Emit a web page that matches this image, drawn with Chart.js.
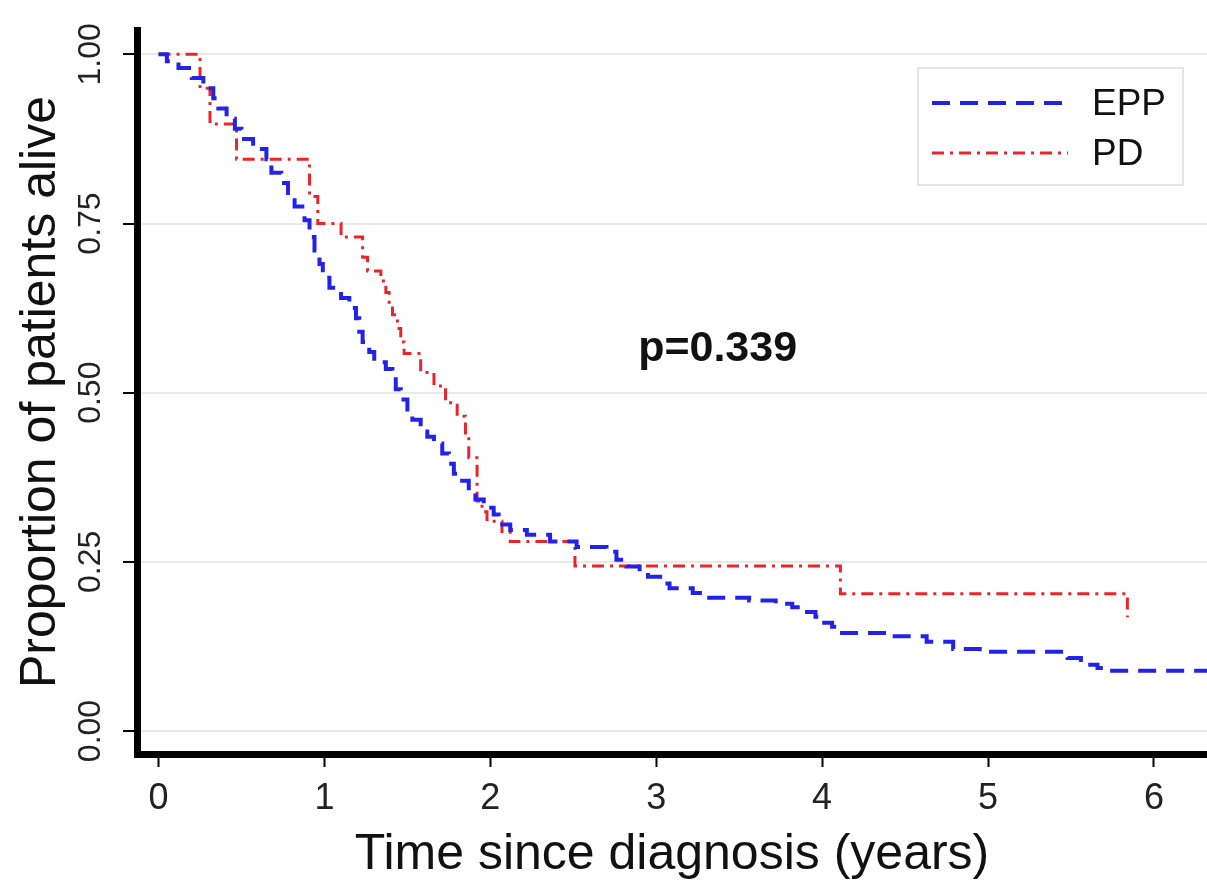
<!DOCTYPE html>
<html>
<head>
<meta charset="utf-8">
<script src="https://cdn.jsdelivr.net/npm/chart.js@4.4.1/dist/chart.umd.min.js"></script>
<style>
  body { margin: 0; background: #fff; }
  #wrap { width: 1207px; height: 880px; }
</style>
</head>
<body>
<div id="wrap"><canvas id="km"></canvas></div>
<script>
// Kaplan-Meier steps: time of each drop and survival after it
const eppTime = [0, 0.05, 0.12, 0.2, 0.27, 0.33, 0.36, 0.41, 0.46, 0.5, 0.57, 0.65, 0.68, 0.74, 0.78,
  0.82, 0.88, 0.91, 0.94, 0.97, 0.99, 1.03, 1.1, 1.15, 1.19, 1.21, 1.23, 1.27, 1.3, 1.37, 1.41,
  1.43, 1.46, 1.5, 1.53, 1.58, 1.62, 1.66, 1.71, 1.75, 1.78, 1.83, 1.87, 1.91, 1.96, 2.02, 2.05,
  2.12, 2.22, 2.36, 2.52, 2.7, 2.76, 2.82, 2.9, 2.95, 3.05, 3.08, 3.22, 3.3, 3.56, 3.72, 3.82,
  3.88, 3.96, 4.0, 4.06, 4.12, 4.42, 4.63, 4.79, 4.95, 5.48, 5.56, 5.66, 5.71, 6.32]
const eppSurv = [1.0, 0.99, 0.98, 0.965, 0.95, 0.935, 0.92, 0.905, 0.89, 0.875, 0.86, 0.845, 0.825, 0.81, 0.79,
  0.775, 0.755, 0.73, 0.71, 0.69, 0.67, 0.655, 0.64, 0.625, 0.61, 0.59, 0.575, 0.56, 0.545, 0.535, 0.52,
  0.505, 0.49, 0.475, 0.46, 0.45, 0.435, 0.425, 0.41, 0.395, 0.38, 0.37, 0.355, 0.342, 0.33, 0.32, 0.305,
  0.297, 0.29, 0.28, 0.272, 0.265, 0.253, 0.243, 0.235, 0.228, 0.218, 0.211, 0.204, 0.197, 0.193, 0.188, 0.183,
  0.176, 0.169, 0.16, 0.154, 0.145, 0.14, 0.132, 0.121, 0.117, 0.108, 0.098, 0.093, 0.089, 0.089]

const pdTime = [0, 0.25, 0.31, 0.47, 0.91, 0.96, 1.1, 1.23, 1.26, 1.34, 1.37, 1.39, 1.41, 1.44, 1.46,
  1.48, 1.58, 1.66, 1.73, 1.8, 1.85, 1.87, 1.92, 1.95, 1.98, 2.07, 2.12, 2.51, 4.11, 5.84]
const pdSurv = [1.0, 0.95, 0.897, 0.845, 0.79, 0.75, 0.73, 0.70, 0.68, 0.665, 0.648, 0.63, 0.615, 0.595, 0.575,
  0.558, 0.53, 0.51, 0.485, 0.465, 0.435, 0.404, 0.34, 0.324, 0.31, 0.295, 0.28, 0.244, 0.203, 0.168]

const seriesNames = ['EPP', 'PD']
const xTicks = [0, 1, 2, 3, 4, 5, 6]
const yTicks = [0, 0.25, 0.5, 0.75, 1]
const pValueText = 'p=0.339'
const pValuePos = [3.37, 0.565]

const FONT = "'Liberation Sans', Arial, sans-serif"
Chart.defaults.font.family = FONT
Chart.defaults.color = '#111'

const blue = '#2222e8'
const red = '#e8262a'
const blueDash = [18, 10]
const redDash = [12, 6, 3, 6]

function toPoints(t, s) {
  return t.map((v, i) => ({ x: v, y: s[i] }))
}

// p-value text and boxed legend inside the plot
const overlay = {
  id: 'overlay',
  afterDraw(chart) {
    const { ctx, chartArea, scales } = chart
    ctx.save()
    ctx.font = 'bold 43px ' + FONT
    ctx.fillStyle = '#111'
    ctx.textAlign = 'center'
    ctx.textBaseline = 'middle'
    ctx.fillText(pValueText, scales.x.getPixelForValue(pValuePos[0]), scales.y.getPixelForValue(pValuePos[1]))

    const bx = chartArea.right - 289, by = chartArea.top + 38
    ctx.fillStyle = '#fff'
    ctx.fillRect(bx, by, 265, 117)
    ctx.strokeStyle = '#dcdcdc'
    ctx.lineWidth = 1.5
    ctx.strokeRect(bx, by, 265, 117)

    const rows = [[blue, blueDash, 4], [red, redDash, 3]]
    ctx.font = '37px ' + FONT
    ctx.textAlign = 'left'
    rows.forEach((r, i) => {
      const y = by + 35 + i * 50
      ctx.strokeStyle = r[0]
      ctx.lineWidth = r[2]
      ctx.setLineDash(r[1])
      ctx.beginPath()
      ctx.moveTo(bx + 14, y)
      ctx.lineTo(bx + 150, y)
      ctx.stroke()
      ctx.setLineDash([])
      ctx.fillStyle = '#111'
      ctx.fillText(seriesNames[i], bx + 174, y + 2)
    })
    ctx.restore()
  }
}

new Chart(document.getElementById('km'), {
  type: 'line',
  data: {
    datasets: [{
      label: seriesNames[0],
      data: toPoints(eppTime, eppSurv),
      borderColor: blue,
      borderWidth: 4,
      borderDash: blueDash,
      stepped: true,
      pointRadius: 0,
      fill: false
    }, {
      label: seriesNames[1],
      data: toPoints(pdTime, pdSurv),
      borderColor: red,
      borderWidth: 3,
      borderDash: redDash,
      stepped: true,
      pointRadius: 0,
      fill: false
    }]
  },
  options: {
    responsive: true,
    maintainAspectRatio: false,
    animation: false,
    layout: { padding: { top: 30, right: 0, left: 0, bottom: 0 } },
    plugins: { legend: { display: false }, tooltip: { enabled: false } },
    scales: {
      x: {
        type: 'linear',
        min: -0.13,
        max: 6.32,
        afterBuildTicks: s => { s.ticks = xTicks.map(v => ({ value: v })) },
        afterFit: s => { s.height = 126 },
        ticks: { font: { size: 36 }, padding: 10, maxRotation: 0, color: '#222' },
        grid: { drawOnChartArea: false, tickColor: '#000', tickLength: 13, tickWidth: 2 },
        border: { color: '#000', width: 7 },
        title: {
          display: true,
          text: 'Time since diagnosis (years)',
          font: { size: 50, lineHeight: 1 },
          padding: { top: 0, bottom: 0 },
          color: '#111'
        }
      },
      y: {
        min: -0.034,
        max: 1.036,
        afterBuildTicks: s => { s.ticks = yTicks.map(v => ({ value: v })) },
        afterFit: s => { s.width = 137 },
        ticks: {
          font: { size: 32 },
          minRotation: 90,
          maxRotation: 90,
          crossAlign: 'center',
          padding: 1,
          color: '#222',
          callback: v => v.toFixed(2)
        },
        grid: { color: '#e9e9e9', lineWidth: 2, tickColor: '#000', tickLength: 14, tickWidth: 2 },
        border: { color: '#000', width: 7 },
        title: {
          display: true,
          text: 'Proportion of patients alive',
          font: { size: 50, lineHeight: 1 },
          padding: { top: 16, bottom: 0 },
          color: '#111'
        }
      }
    }
  },
  plugins: [overlay]
})
</script>
</body>
</html>
